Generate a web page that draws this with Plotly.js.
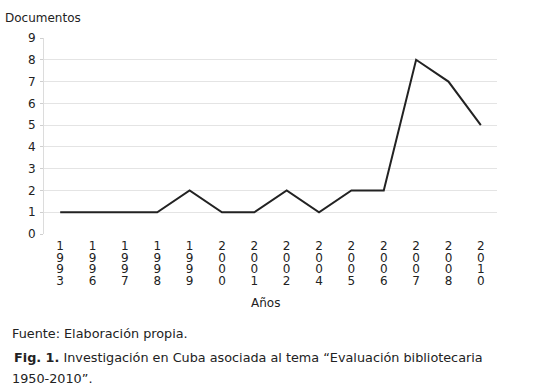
<!DOCTYPE html>
<html>
<head>
<meta charset="utf-8">
<script src="https://cdn.plot.ly/plotly-3.0.1.min.js"></script>
<style>html,body{margin:0;padding:0;background:#fff;}#chart{width:537px;height:392px;}</style>
</head>
<body>
<div id="chart"></div>
<script>
const years = ["1993","1996","1997","1998","1999","2000","2001","2002","2004","2005","2006","2007","2008","2010"];
const documentos = [1,1,1,1,2,1,1,2,1,2,2,8,7,5];
const yTicks = [0,1,2,3,4,5,6,7,8,9];

const FONT = "DejaVu Sans, Verdana, sans-serif";
const TXT = "#222";
const idx = years.map((_, i) => i);
const standoffs = [3, 15, 26, 38];

const traces = [{
  type: "scatter", mode: "lines",
  x: years, y: documentos,
  line: {color: "#222", width: 2},
  hoverinfo: "x+y", showlegend: false
}];

const layout = {
  width: 537, height: 392,
  margin: {l: 44, r: 40, t: 38, b: 158},
  paper_bgcolor: "#fff", plot_bgcolor: "#fff",
  font: {family: FONT, size: 12, color: TXT},
  xaxis: {
    type: "category", categoryorder: "array", categoryarray: years,
    range: [-0.5, years.length - 0.5],
    tickmode: "array", tickvals: years, ticktext: years.map(y => y[0]),
    ticks: "", showgrid: false, zeroline: false, showline: false,
    tickfont: {family: FONT, size: 12, color: TXT},
    ticklabelstandoff: standoffs[0]
  },
  yaxis: {
    range: [0, 9], tickmode: "array", tickvals: yTicks,
    showgrid: true, gridcolor: "#e4e4e4", gridwidth: 1,
    zeroline: false, showline: true, linecolor: "#dcdcdc", linewidth: 1,
    ticks: "outside", ticklen: 3, tickcolor: "#cfcfcf",
    tickfont: {family: FONT, size: 12, color: TXT},
    ticklabelstandoff: 2
  },
  annotations: [
    {xref: "paper", yref: "paper", x: -44/453, y: 1, yshift: 20, xshift: 3, xanchor: "left", yanchor: "middle",
     text: "Documentos", showarrow: false, font: {family: FONT, size: 12, color: TXT}},
    {xref: "paper", yref: "paper", x: 0.49, y: 0, yshift: -69, xanchor: "center", yanchor: "middle",
     text: "Años", showarrow: false, font: {family: FONT, size: 12, color: TXT}},
    {xref: "paper", yref: "paper", x: -44/453, y: 0, xshift: 10, yshift: -99, xanchor: "left", yanchor: "middle",
     text: "Fuente: Elaboración propia.", showarrow: false, font: {family: FONT, size: 12.8, color: TXT}},
    {xref: "paper", yref: "paper", x: -44/453, y: 0, xshift: 12, yshift: -123, xanchor: "left", yanchor: "middle",
     text: "<b>Fig. 1.</b> Investigación en Cuba asociada al tema “Evaluación bibliotecaria", showarrow: false, font: {family: FONT, size: 12.8, color: TXT}},
    {xref: "paper", yref: "paper", x: -44/453, y: 0, xshift: 10, yshift: -144, xanchor: "left", yanchor: "middle",
     text: "1950-2010”.", showarrow: false, font: {family: FONT, size: 12.8, color: TXT}}
  ]
};

for (let k = 1; k < 4; k++) {
  const name = "xaxis" + (k + 1);
  layout[name] = {
    overlaying: "x", anchor: "y", side: "bottom",
    range: [-0.5, years.length - 0.5],
    tickmode: "array", tickvals: idx, ticktext: years.map(y => y[k]),
    ticks: "", showgrid: false, zeroline: false, showline: false,
    tickfont: {family: FONT, size: 12, color: TXT},
    ticklabelstandoff: standoffs[k]
  };
  traces.push({type: "scatter", mode: "lines", x: [], y: [], xaxis: "x" + (k + 1), yaxis: "y", showlegend: false, hoverinfo: "skip"});
}

Plotly.newPlot("chart", traces, layout, {displayModeBar: false, responsive: false});
</script>
</body>
</html>
